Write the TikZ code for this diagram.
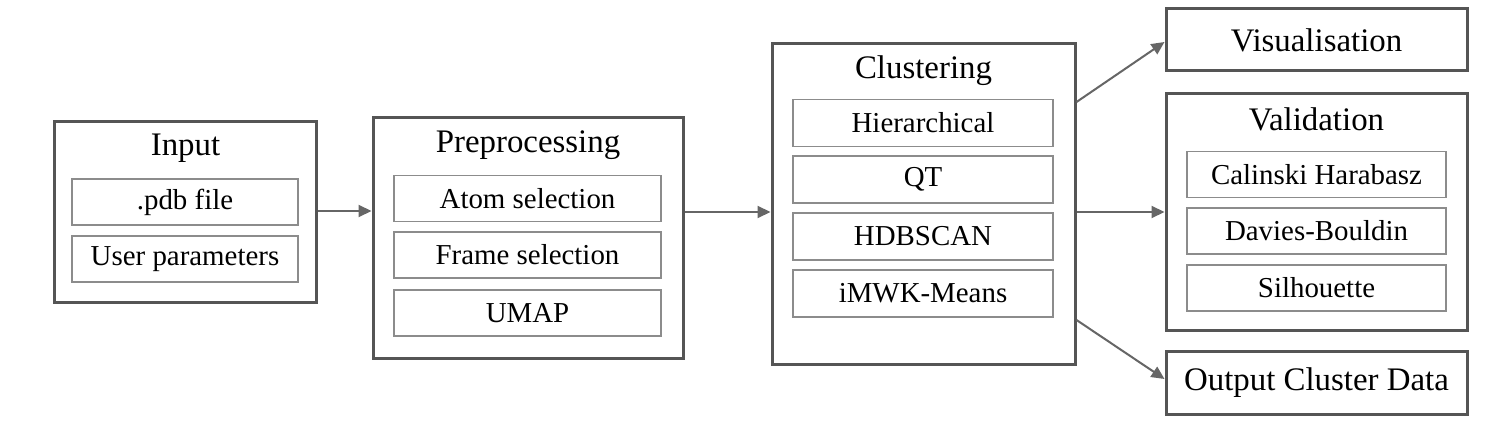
\documentclass[tikz,border=0pt]{standalone}
\usepackage{fontspec}
\setmainfont{Liberation Serif}
\usetikzlibrary{arrows.meta}
\definecolor{outerc}{HTML}{555555}
\definecolor{innerc}{HTML}{8C8C8C}
\definecolor{arrc}{HTML}{666666}
\tikzset{
  outerbox/.style={draw=outerc, line width=3bp, fill=white, inner sep=0pt},
  innerbox/.style={draw=innerc, line width=1.5bp, fill=white, inner sep=0pt,
    font=\fontsize{29}{32}\selectfont},
  titletext/.style={inner sep=0pt, font=\fontsize{33}{36}\selectfont},
  arr/.style={draw=arrc, line width=2bp, -{Triangle[length=13bp,width=12bp]}},
}
\begin{document}
\begin{tikzpicture}[x=1bp,y=-1bp]
\useasboundingbox[fill=white] (0,0) rectangle (1506,436);
% Input
\node[outerbox, minimum width=261bp, minimum height=180bp] (input) at (185.5,212) {};
\node[titletext] (inputT) at (185.5,148) {Input};
\node[innerbox, minimum width=226bp, minimum height=46bp] (pdb) at (185,202) {.pdb file};
\node[innerbox, minimum width=226bp, minimum height=46bp] (user) at (185,259) {User parameters};
% Preprocessing
\node[outerbox, minimum width=310bp, minimum height=240bp] (prep) at (528,238) {};
\node[titletext] (prepT) at (528,145) {Preprocessing};
\node[innerbox, minimum width=267bp, minimum height=46bp] (atom) at (527.5,198.5) {Atom selection};
\node[innerbox, minimum width=267bp, minimum height=46bp] (frame) at (527.5,255) {Frame selection};
\node[innerbox, minimum width=267bp, minimum height=46bp] (umap) at (527.5,313) {UMAP};
% Clustering
\node[outerbox, minimum width=303bp, minimum height=320bp] (clust) at (923.5,204) {};
\node[titletext] (clustT) at (923.5,71) {Clustering};
\node[innerbox, minimum width=260bp, minimum height=47bp] (hier) at (923,123) {Hierarchical};
\node[innerbox, minimum width=260bp, minimum height=47bp] (qt) at (923,179.5) {QT};
\node[innerbox, minimum width=260bp, minimum height=47bp] (hdb) at (923,236.5) {HDBSCAN};
\node[innerbox, minimum width=260bp, minimum height=47bp] (imwk) at (923,293.5) {iMWK-Means};
% Right column
\node[outerbox, minimum width=301bp, minimum height=62bp, font=\fontsize{33}{36}\selectfont] (vis) at (1316.5,40) {Visualisation};
\node[outerbox, minimum width=301bp, minimum height=236bp] (valid) at (1316.5,212) {};
\node[titletext] (validT) at (1316.5,119) {Validation};
\node[innerbox, minimum width=259bp, minimum height=46bp] (cal) at (1316.5,174.5) {Calinski Harabasz};
\node[innerbox, minimum width=259bp, minimum height=46bp] (dav) at (1316.5,231) {Davies-Bouldin};
\node[innerbox, minimum width=259bp, minimum height=46bp] (sil) at (1316.5,288) {Silhouette};
\node[outerbox, minimum width=301bp, minimum height=62bp, font=\fontsize{33}{36}\selectfont] (out) at (1316.5,383) {Output Cluster Data};
% Connectors
\draw[arr] (input.east |- 0,211) -- (prep.west |- 0,211);
\draw[arr] (prep.east |- 0,212) -- (clust.west |- 0,212);
\draw[arr] (clust.east |- valid.west) -- (valid.west);
\draw[arr] (clust.east |- 0,102) -- (vis.west |- 0,42);
\draw[arr] (clust.east |- 0,320) -- (out.west |- 0,379);
\end{tikzpicture}
\end{document}
